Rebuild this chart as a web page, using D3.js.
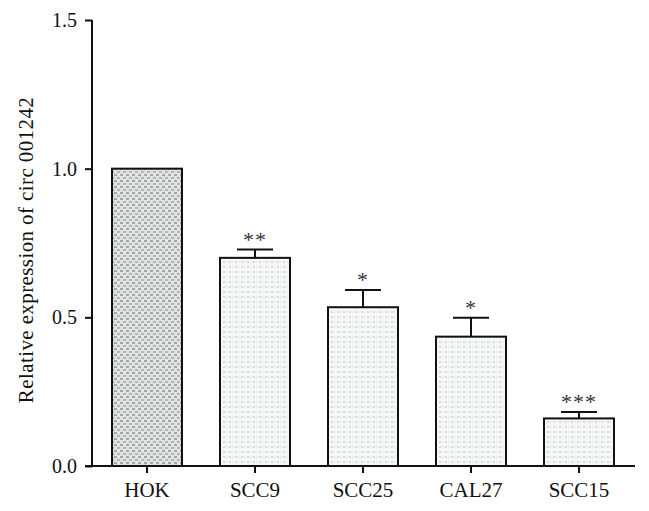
<!DOCTYPE html>
<html>
<head>
<meta charset="utf-8">
<script src="https://cdn.jsdelivr.net/npm/d3@7"></script>
<style>
  html, body { margin: 0; padding: 0; background: #fff; }
  svg { display: block; }
</style>
</head>
<body>
<svg id="chart" width="649" height="511"></svg>
<script>
// ---- data ----
const categories = ["HOK", "SCC9", "SCC25", "CAL27", "SCC15"];
const values = [1.0, 0.70, 0.534, 0.435, 0.160];
const errors = [0.0, 0.028, 0.058, 0.064, 0.022];
const significance = ["", "**", "*", "*", "***"];
const yTicks = [0.0, 0.5, 1.0, 1.5];
const yLabel = "Relative expression of circ 001242";

// ---- layout ----
const svg = d3.select("#chart");
const font = "'Liberation Serif', 'Times New Roman', serif";
const y = d3.scaleLinear().domain([0, 1.5]).range([466, 20]);
const x = d3.scaleBand().domain(categories).range([93, 633])
  .paddingInner(0.352).paddingOuter(0.176);

// patterns
const defs = svg.append("defs");
const pDark = defs.append("pattern").attr("id", "pDark")
  .attr("patternUnits", "userSpaceOnUse").attr("width", 6).attr("height", 6);
pDark.append("rect").attr("width", 6).attr("height", 6).attr("fill", "#dfe2e1");
pDark.append("rect").attr("x", 0).attr("y", 0).attr("width", 3).attr("height", 2).attr("fill", "#a4a9a7");
pDark.append("rect").attr("x", 3).attr("y", 3).attr("width", 3).attr("height", 2).attr("fill", "#b4b9b7");
pDark.append("rect").attr("x", 4).attr("y", 0).attr("width", 2).attr("height", 1).attr("fill", "#f2f4f3");

const pLight = defs.append("pattern").attr("id", "pLight")
  .attr("patternUnits", "userSpaceOnUse").attr("width", 6).attr("height", 5);
pLight.append("rect").attr("width", 6).attr("height", 5).attr("fill", "#f6f7f7");
pLight.append("rect").attr("x", 1).attr("y", 1).attr("width", 2).attr("height", 2).attr("fill", "#d6dad8");
pLight.append("rect").attr("x", 4).attr("y", 1).attr("width", 1).attr("height", 2).attr("fill", "#e2e5e4");

// bars
const g = svg.append("g");
g.selectAll("rect.bar").data(categories).join("rect")
  .attr("class", "bar")
  .attr("x", d => x(d))
  .attr("width", x.bandwidth())
  .attr("y", (d, i) => y(values[i]))
  .attr("height", (d, i) => y(0) - y(values[i]))
  .attr("fill", (d, i) => i === 0 ? "url(#pDark)" : "url(#pLight)")
  .attr("stroke", "#111")
  .attr("stroke-width", 2);

// error bars
const capW = 36;
categories.forEach((c, i) => {
  if (errors[i] <= 0) return;
  const cx = x(c) + x.bandwidth() / 2;
  g.append("line").attr("x1", cx).attr("x2", cx)
    .attr("y1", y(values[i])).attr("y2", y(values[i] + errors[i]))
    .attr("stroke", "#111").attr("stroke-width", 2);
  g.append("line").attr("x1", cx - capW / 2).attr("x2", cx + capW / 2)
    .attr("y1", y(values[i] + errors[i])).attr("y2", y(values[i] + errors[i]))
    .attr("stroke", "#111").attr("stroke-width", 2);
});

// significance stars
g.selectAll("text.sig").data(categories).join("text")
  .attr("class", "sig")
  .attr("x", d => x(d) + x.bandwidth() / 2)
  .attr("y", (d, i) => y(values[i] + errors[i]) - 3)
  .attr("text-anchor", "middle")
  .attr("font-family", font)
  .attr("font-size", 22)
  .attr("letter-spacing", 1)
  .attr("fill", "#333")
  .text((d, i) => significance[i]);

// y axis
const yAxis = svg.append("g").attr("transform", "translate(92,0)")
  .call(d3.axisLeft(y).tickValues(yTicks).tickFormat(d3.format(".1f")).tickSize(7).tickPadding(8));
yAxis.select(".domain").attr("stroke", "#111").attr("stroke-width", 2).attr("d", `M0,${y(1.5)}V${y(0)}`);
yAxis.selectAll(".tick line").attr("stroke", "#111").attr("stroke-width", 2);
yAxis.selectAll(".tick text").attr("font-family", font).attr("font-size", 20).attr("fill", "#111");

// x axis
const xAxis = svg.append("g").attr("transform", `translate(0,${y(0)})`)
  .call(d3.axisBottom(x).tickSize(7).tickPadding(9));
xAxis.select(".domain").attr("stroke", "#111").attr("stroke-width", 2).attr("d", "M85,0H635");
xAxis.selectAll(".tick line").attr("stroke", "#111").attr("stroke-width", 2);
xAxis.selectAll(".tick text").attr("font-family", font).attr("font-size", 21).attr("fill", "#111");

// y label
svg.append("text")
  .attr("transform", "translate(33,250) rotate(-90)")
  .attr("text-anchor", "middle")
  .attr("font-family", font)
  .attr("font-size", 21)
  .attr("letter-spacing", 0.4)
  .attr("fill", "#111")
  .text(yLabel);
</script>
</body>
</html>
